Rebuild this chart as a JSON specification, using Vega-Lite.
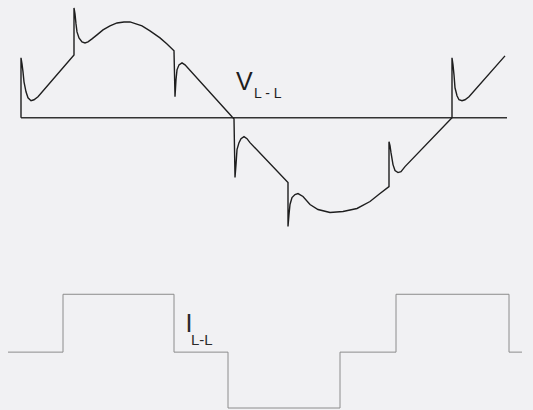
{
  "$schema": "https://vega.github.io/schema/vega-lite/v6.json",
  "width": 533,
  "height": 410,
  "autosize": {"type": "fit", "contains": "padding"},
  "padding": 0,
  "background": "#f1f1f3",
  "config": {"view": {"stroke": null}},
  "datasets": {
    "voltage": [
      {"k":0,"t":21,"v":0},{"k":1,"t":21,"v":60},{"k":2,"t":22,"v":54},{"k":3,"t":23,"v":46},{"k":4,"t":24,"v":36},{"k":5,"t":26,"v":26},{"k":6,"t":28,"v":20},{"k":7,"t":31,"v":17},{"k":8,"t":34,"v":18},{"k":9,"t":38,"v":21},{"k":10,"t":74,"v":63},{"k":11,"t":74,"v":110},{"k":12,"t":75,"v":104},{"k":13,"t":76,"v":94},{"k":14,"t":77,"v":86},{"k":15,"t":79,"v":80},{"k":16,"t":82,"v":76},{"k":17,"t":85,"v":75},{"k":18,"t":88,"v":76},{"k":19,"t":92,"v":79},{"k":20,"t":97,"v":83},{"k":21,"t":103,"v":88},{"k":22,"t":110,"v":92},{"k":23,"t":117,"v":95},{"k":24,"t":124,"v":96},{"k":25,"t":130,"v":96},{"k":26,"t":136,"v":94},{"k":27,"t":142,"v":92},{"k":28,"t":150,"v":87},{"k":29,"t":160,"v":80},{"k":30,"t":167,"v":74},{"k":31,"t":174,"v":67},{"k":32,"t":175,"v":21},{"k":33,"t":176,"v":38},{"k":34,"t":177,"v":48},{"k":35,"t":179,"v":53},{"k":36,"t":182,"v":55},{"k":37,"t":185,"v":53},{"k":38,"t":232,"v":1},{"k":39,"t":234,"v":-1},{"k":40,"t":235,"v":-60},{"k":41,"t":236,"v":-47},{"k":42,"t":237,"v":-32},{"k":43,"t":239,"v":-25},{"k":44,"t":241,"v":-21},{"k":45,"t":244,"v":-19},{"k":46,"t":247,"v":-21},{"k":47,"t":250,"v":-25},{"k":48,"t":288,"v":-65},{"k":49,"t":288,"v":-109},{"k":50,"t":289,"v":-97},{"k":51,"t":290,"v":-87},{"k":52,"t":292,"v":-80},{"k":53,"t":295,"v":-77},{"k":54,"t":298,"v":-76},{"k":55,"t":303,"v":-79},{"k":56,"t":310,"v":-87},{"k":57,"t":318,"v":-92},{"k":58,"t":330,"v":-95},{"k":59,"t":343,"v":-94},{"k":60,"t":357,"v":-91},{"k":61,"t":370,"v":-84},{"k":62,"t":380,"v":-76},{"k":63,"t":389,"v":-69},{"k":64,"t":389,"v":-24},{"k":65,"t":390,"v":-28},{"k":66,"t":391,"v":-35},{"k":67,"t":393,"v":-47},{"k":68,"t":395,"v":-53},{"k":69,"t":398,"v":-55},{"k":70,"t":401,"v":-54},{"k":71,"t":405,"v":-49},{"k":72,"t":452,"v":0},{"k":73,"t":452,"v":60},{"k":74,"t":453,"v":53},{"k":75,"t":454,"v":43},{"k":76,"t":455,"v":30},{"k":77,"t":457,"v":22},{"k":78,"t":459,"v":18},{"k":79,"t":462,"v":17},{"k":80,"t":465,"v":18},{"k":81,"t":469,"v":21},{"k":82,"t":505,"v":62}
    ],
    "vbase": [{"t":21,"v":0},{"t":507,"v":0}],
    "current": [
      {"k":0,"t":8,"i":0},{"k":1,"t":63,"i":0},{"k":2,"t":63,"i":58},{"k":3,"t":174,"i":58},{"k":4,"t":174,"i":0},{"k":5,"t":228,"i":0},{"k":6,"t":228,"i":-56},{"k":7,"t":340,"i":-56},{"k":8,"t":340,"i":0},{"k":9,"t":396,"i":0},{"k":10,"t":396,"i":58},{"k":11,"t":509,"i":58},{"k":12,"t":509,"i":0},{"k":13,"t":522,"i":0}
    ],
    "vlabel": [{"t":236,"v":28,"txt":"V"}],
    "vsub": [{"t":254,"v":20,"txt":"L - L"}],
    "ilabel": [{"t":185.5,"i":20,"txt":"I"}],
    "isub": [{"t":191,"i":7,"txt":"L-L"}]
  },
  "resolve": {"scale": {"y": "independent"}},
  "layer": [
    {
      "data": {"name": "current"},
      "mark": {"type": "line", "stroke": "#8c8c8c", "strokeWidth": 1},
      "encoding": {
        "x": {"field": "t", "type": "quantitative", "scale": {"domain": [0, 533]}, "axis": null},
        "y": {"field": "i", "type": "quantitative", "scale": {"domain": [-57, 353]}, "axis": null},
        "order": {"field": "k"}
      }
    },
    {
      "data": {"name": "vbase"},
      "mark": {"type": "line", "stroke": "#333333", "strokeWidth": 1.5},
      "encoding": {
        "x": {"field": "t", "type": "quantitative", "scale": {"domain": [0, 533]}, "axis": null},
        "y": {"field": "v", "type": "quantitative", "scale": {"domain": [-292, 118]}, "axis": null}
      }
    },
    {
      "data": {"name": "voltage"},
      "mark": {"type": "line", "stroke": "#1e1e1e", "strokeWidth": 1.4},
      "encoding": {
        "x": {"field": "t", "type": "quantitative", "scale": {"domain": [0, 533]}, "axis": null},
        "y": {"field": "v", "type": "quantitative", "scale": {"domain": [-292, 118]}, "axis": null},
        "order": {"field": "k"}
      }
    },
    {
      "data": {"name": "vlabel"},
      "mark": {"type": "text", "align": "left", "baseline": "alphabetic", "font": "Liberation Sans", "fontSize": 25, "fill": "#1e1e1e"},
      "encoding": {
        "x": {"field": "t", "type": "quantitative", "scale": {"domain": [0, 533]}, "axis": null},
        "y": {"field": "v", "type": "quantitative", "scale": {"domain": [-292, 118]}, "axis": null},
        "text": {"field": "txt"}
      }
    },
    {
      "data": {"name": "vsub"},
      "mark": {"type": "text", "align": "left", "baseline": "alphabetic", "font": "Liberation Sans", "fontSize": 14, "fill": "#1e1e1e"},
      "encoding": {
        "x": {"field": "t", "type": "quantitative", "scale": {"domain": [0, 533]}, "axis": null},
        "y": {"field": "v", "type": "quantitative", "scale": {"domain": [-292, 118]}, "axis": null},
        "text": {"field": "txt"}
      }
    },
    {
      "data": {"name": "ilabel"},
      "mark": {"type": "text", "align": "left", "baseline": "alphabetic", "font": "Liberation Sans", "fontSize": 25, "fill": "#2a2a2a"},
      "encoding": {
        "x": {"field": "t", "type": "quantitative", "scale": {"domain": [0, 533]}, "axis": null},
        "y": {"field": "i", "type": "quantitative", "scale": {"domain": [-57, 353]}, "axis": null},
        "text": {"field": "txt"}
      }
    },
    {
      "data": {"name": "isub"},
      "mark": {"type": "text", "align": "left", "baseline": "alphabetic", "font": "Liberation Sans", "fontSize": 15, "fill": "#2a2a2a"},
      "encoding": {
        "x": {"field": "t", "type": "quantitative", "scale": {"domain": [0, 533]}, "axis": null},
        "y": {"field": "i", "type": "quantitative", "scale": {"domain": [-57, 353]}, "axis": null},
        "text": {"field": "txt"}
      }
    }
  ]
}
